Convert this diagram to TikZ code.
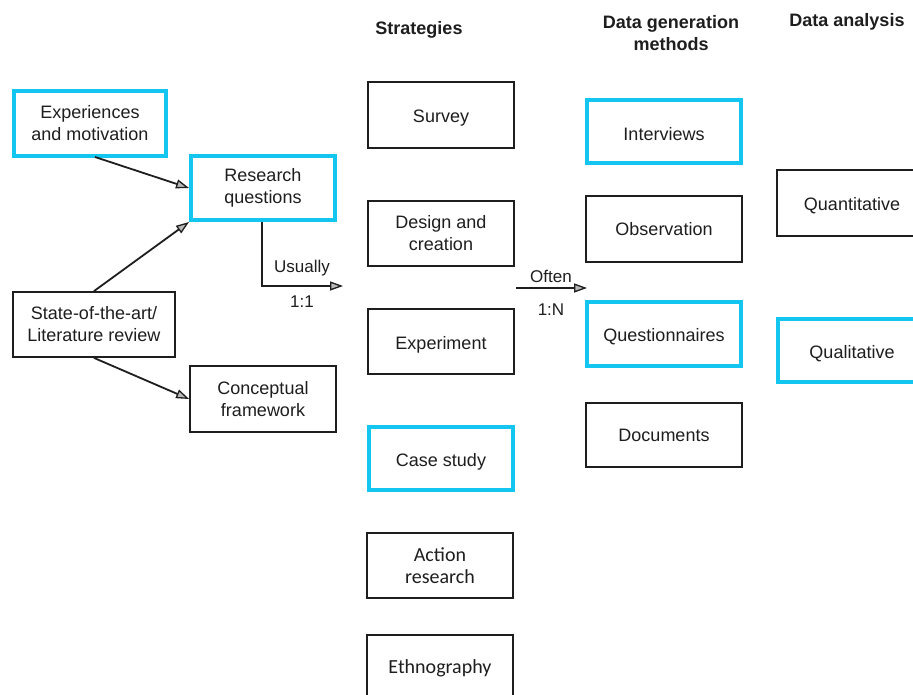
\documentclass[tikz,border=0pt]{standalone}
\usepackage{fontspec}
\setmainfont{Liberation Sans}
\newfontfamily\calib{Carlito}
\usetikzlibrary{arrows.meta}
\definecolor{hilite}{RGB}{18,198,240}
\definecolor{ink}{RGB}{30,30,30}
\tikzset{
  x=1pt, y=-1pt,
  every node/.style={text=ink, font=\fontsize{18}{22}\selectfont, inner sep=0pt},
  plainbox/.style={draw=ink, line width=1.8pt, align=center},
  markbox/.style={draw=hilite, line width=4pt, align=center},
  heading/.style={font=\fontsize{18}{22}\selectfont\bfseries, align=center},
  tag/.style={font=\fontsize{17}{20}\selectfont},
  link/.style={draw=ink, line width=1.8pt, -{Triangle[open, length=13pt, width=9pt, fill=gray!55, line width=1.3pt]}},
}
% single-line label, set a little low in its box
\newcommand\low[1]{\raisebox{-3pt}[\height][\depth]{#1}}
% box from its corner coordinates: #1 style, #2 name, (#3,#4) top-left, (#5,#6) bottom-right, #7 text
\newcommand\pbox[7]{%
  \pgfmathsetmacro\bw{#5-#3}\pgfmathsetmacro\bh{#6-#4}%
  \node[#1, minimum width=\bw pt, minimum height=\bh pt] (#2) at ({(#3+#5)/2},{(#4+#6)/2}) {#7};}
\begin{document}
\begin{tikzpicture}
\clip (0,0) rectangle (913,695);
\fill[white] (0,0) rectangle (913,695);

% column headings
\node[heading] (hstrat) at (419,30) {Strategies};
\node[heading] (hdata) at (671,33) {Data generation\\methods};
\node[heading] (hanal) at (847,22) {Data analysis};

% research framing
\pbox{markbox}{exp}{14}{91}{166}{156}{Experiences\\and motivation}
\pbox{markbox}{rq}{191}{156}{335}{220}{Research\\questions}
\pbox{plainbox}{sota}{13}{292}{175}{357}{State-of-the-art/\\Literature review}
\pbox{plainbox}{cf}{190}{366}{336}{432}{Conceptual\\framework}

% strategies
\pbox{plainbox}{survey}{368}{82}{514}{148}{\low{Survey}}
\pbox{plainbox}{design}{368}{201}{514}{266}{Design and\\creation}
\pbox{plainbox}{experiment}{368}{309}{514}{374}{\low{Experiment}}
\pbox{markbox}{casestudy}{369}{427}{513}{490}{\low{Case study}}
\pbox{plainbox}{action}{367}{533}{513}{598}{\calib\fontsize{20}{25}\selectfont Action\\\calib\fontsize{20}{25}\selectfont research}
\pbox{plainbox}{ethno}{367}{635}{513}{701}{\calib\fontsize{20}{25}\selectfont Ethnography}

% data generation methods
\pbox{markbox}{interviews}{587}{100}{741}{163}{\low{Interviews}}
\pbox{plainbox}{observation}{586}{196}{742}{262}{Observation}
\pbox{markbox}{questionnaires}{587}{302}{741}{366}{\low{Questionnaires}}
\pbox{plainbox}{documents}{586}{403}{742}{467}{Documents}

% data analysis
\pbox{plainbox}{quant}{777}{170}{927}{236}{\low{Quantitative}}
\pbox{markbox}{qual}{778}{319}{926}{382}{\low{Qualitative}}

% connectors
\draw[link] (95,157) -- (rq.west);
\draw[link] (sota.north) -- (rq.south west);
\draw[link] (sota.south) -- (cf.west);
\coordinate (usualend) at (343,286);
\draw[link] (rq.south -| 262,0) |- (usualend);
\node[tag] (usually) at (302,268) {Usually};
\node[tag] (one) at (302,302) {1:1};
\coordinate (oftenstart) at (516,288);
\coordinate (oftenend) at (587,288);
\draw[link] (oftenstart) -- (oftenend);
\node[tag] (often) at (551,276) {Often};
\node[tag] (onen) at (551,310) {1:N};
\end{tikzpicture}
\end{document}
